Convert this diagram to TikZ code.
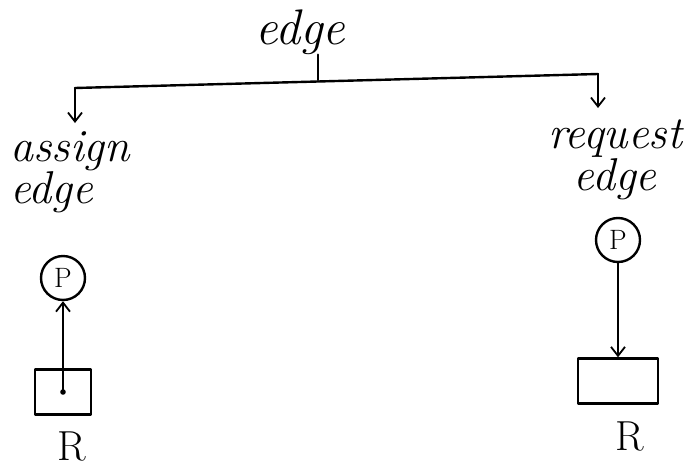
\documentclass[tikz,border=0pt]{standalone}
\usepackage{fontspec}
\usetikzlibrary{arrows.meta, positioning}

\tikzset{
  hand/.style={line width=2.4pt, line cap=round, line join=round},
  tip/.style={hand, -{Straight Barb[length=9pt, width=14pt, line width=1.8pt]}},
  word/.style={font=\fontsize{46}{40}\selectfont\itshape, inner sep=0pt},
  proc/.style={hand, circle, draw, minimum size=44pt, inner sep=0pt,
    font=\fontsize{28}{30}\selectfont},
  res/.style={hand, draw, inner sep=0pt},
  rname/.style={font=\fontsize{42}{44}\selectfont, inner sep=0pt}
}

\begin{document}
\begin{tikzpicture}[x=1pt, y=-1pt]
\useasboundingbox (0,0) rectangle (700,471);

\node[word, font=\fontsize{50}{50}\selectfont\itshape] (top) at (300,32) {edge};
\coordinate (split) at (318,80);
\coordinate (lft) at (75,88);
\coordinate (rgt) at (598,74);
\coordinate (lftend) at (75,123);
\coordinate (rgtend) at (598,108);

\draw[hand] (top.south -| split) -- (split);
\draw[hand] (lft) -- (rgt);
\draw[tip] (lft) -- (lftend);
\draw[tip] (rgt) -- (rgtend);

\node[word, align=left] (assign) at (70,172) {assign\\edge};
\node[word, align=center] (request) at (615,160) {request\\edge};

% assign edge: R -> P
\node[proc] (pa) at (63,278) {P};
\node[res, minimum width=56pt, minimum height=45pt] (ra) at (63,392) {};
\fill (ra.center) circle (2.8pt);
\draw[tip] (ra.center) -- (pa.south);
\node[rname] (rla) at (72,446) {R};

% request edge: P -> R
\node[proc] (pb) at (618,240) {P};
\node[res, minimum width=80pt, minimum height=45pt] (rb) at (618,381) {};
\draw[tip] (pb.south) -- (rb.north);
\node[rname] (rlb) at (630,436) {R};
\end{tikzpicture}
\end{document}
